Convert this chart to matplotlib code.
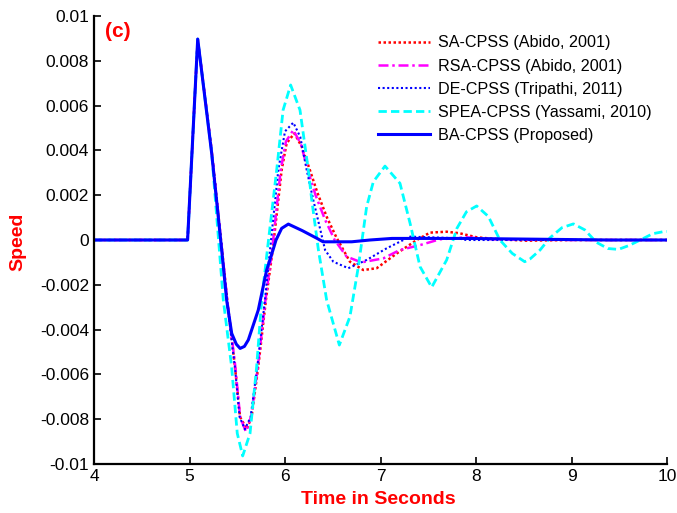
#!/usr/bin/env python3
"""Speed deviation response of the CPSS designs, panel (c)."""

import matplotlib
matplotlib.use("Agg")
import matplotlib.pyplot as plt
from matplotlib.ticker import FixedLocator, FixedFormatter


# values, speed in units of 1e-3
t_sa = [4.0, 4.98, 5.086, 5.232, 5.337, 5.395, 5.476, 5.529, 5.599, 5.65, 5.72, 5.80,
        5.871, 5.965, 6.017, 6.098, 6.175, 6.26, 6.34, 6.44, 6.54, 6.68, 6.82, 6.96,
        7.17, 7.38, 7.518, 7.693, 7.83, 8.007, 8.25, 8.53, 9.0, 10.0]
v_sa = [0, 0, 8.97, 4.0, -0.3, -2.68, -5.66, -7.89, -8.45, -7.89, -5.66, -2.68,
        -0.45, 3.13, 4.32, 4.76, 4.17, 3.13, 2.1, 1.0, 0.1, -0.97, -1.34, -1.26,
        -0.6, 0.0, 0.33, 0.37, 0.30, 0.12, 0.03, -0.03, 0, 0]

t_rsa = [4.0, 4.98, 5.086, 5.232, 5.337, 5.395, 5.48, 5.53, 5.59, 5.645, 5.715, 5.795,
         5.865, 5.955, 6.01, 6.087, 6.165, 6.24, 6.32, 6.42, 6.52, 6.645, 6.80, 7.03,
         7.2, 7.42, 7.62, 7.90, 8.18, 9.0, 10.0]
v_rsa = [0, 0, 8.97, 4.0, -0.3, -2.68, -5.66, -7.9, -8.55, -7.9, -5.66, -2.68,
         -0.45, 3.13, 4.4, 4.91, 4.3, 3.1, 2.0, 0.9, 0.0, -0.74, -1.0, -0.82,
         -0.45, -0.22, 0.03, 0.12, 0.03, 0, 0]

t_de = [4.0, 4.98, 5.086, 5.232, 5.337, 5.39, 5.475, 5.525, 5.58, 5.64, 5.71, 5.79,
        5.843, 5.93, 6.0, 6.087, 6.16, 6.227, 6.296, 6.42, 6.506, 6.663, 6.855, 7.065,
        7.31, 7.8, 7.9, 10.0]
v_de = [0, 0, 8.97, 4.0, -0.3, -2.68, -5.66, -7.9, -8.45, -7.9, -5.66, -2.68,
        -0.45, 3.13, 4.85, 5.24, 4.6, 3.13, 1.79, -0.45, -0.97, -1.26, -0.89, -0.37,
        0.15, 0.08, 0.0, 0.0]

t_spea = [4.0, 4.98, 5.086, 5.232, 5.354, 5.441, 5.50, 5.557, 5.634, 5.703, 5.756, 5.815,
          5.913, 5.98, 6.059, 6.157, 6.244, 6.28, 6.35, 6.436, 6.569, 6.68, 6.768, 6.855,
          6.925, 7.047, 7.204, 7.31, 7.414, 7.536, 7.693, 7.80, 7.90, 8.007, 8.13, 8.25,
          8.38, 8.51, 8.565, 8.67, 8.775, 8.90, 9.02, 9.14, 9.26, 9.38, 9.49, 9.60,
          9.72, 9.85, 9.96, 10.0]
v_spea = [0, 0, 8.97, 3.9, -2.68, -5.66, -8.63, -9.64, -8.63, -5.66, -2.68, -0.45,
          3.13, 5.8, 6.92, 5.8, 3.13, 1.79, -0.45, -2.68, -4.69, -3.42, -1.19, 1.49,
          2.6, 3.30, 2.53, 0.74, -1.19, -2.11, -0.89, 0.52, 1.26, 1.52, 1.05, 0.0,
          -0.6, -0.97, -0.85, -0.45, 0.1, 0.55, 0.72, 0.45, -0.1, -0.38, -0.42, -0.25,
          0.0, 0.28, 0.37, 0.38]

t_ba = [4.0, 4.98, 5.086, 5.232, 5.337, 5.389, 5.442, 5.49, 5.53, 5.575, 5.616, 5.72,
        5.808, 5.874, 5.906, 5.965, 6.035, 6.18, 6.332, 6.398, 6.698, 6.89, 7.12, 7.88,
        9.4, 10.0]
v_ba = [0, 0, 8.97, 3.88, -0.45, -2.68, -4.17, -4.65, -4.84, -4.75, -4.46, -3.13,
        -1.34, -0.45, 0, 0.52, 0.71, 0.42, 0.08, -0.08, -0.08, 0, 0.07, 0.07,
        0, 0]

labels = ["SA-CPSS (Abido, 2001)", "RSA-CPSS (Abido, 2001)", "DE-CPSS (Tripathi, 2011)",
          "SPEA-CPSS (Yassami, 2010)", "BA-CPSS (Proposed)"]

y_ticks = [-0.01, -0.008, -0.006, -0.004, -0.002, 0, 0.002, 0.004, 0.006, 0.008, 0.01]
y_tick_labels = ["-0.01", "-0.008", "-0.006", "-0.004", "-0.002", "0",
                 "0.002", "0.004", "0.006", "0.008", "0.01"]
x_ticks = [4, 5, 6, 7, 8, 9, 10]


def scaled(values):
    return [v * 1e-3 for v in values]


def main():
    plt.rcParams["font.family"] = ["Liberation Sans", "DejaVu Sans"]
    fig = plt.figure(figsize=(6.77, 5.13), dpi=100)
    ax = fig.add_axes([94 / 677, 1 - 464 / 513, 573 / 677, 448 / 513])

    ax.plot(t_sa, scaled(v_sa), color="#FF0000", linestyle=(0, (1, 1)), linewidth=1.8,
            label=labels[0])
    ax.plot(t_rsa, scaled(v_rsa), color="#FF00FF", linestyle=(0, (4, 1.5, 1, 1.5)),
            linewidth=1.8, label=labels[1])
    ax.plot(t_de, scaled(v_de), color="#0000FF", linestyle=(0, (1, 1.2)), linewidth=1.5,
            label=labels[2])
    ax.plot(t_spea, scaled(v_spea), color="#00FFFF", linestyle=(0, (3, 1.5)),
            linewidth=2.0, label=labels[3])
    ax.plot(t_ba, scaled(v_ba), color="#0000FF", linestyle="-", linewidth=2.2,
            label=labels[4])

    ax.set_xlim(4, 10)
    ax.set_ylim(-0.01, 0.01)
    ax.xaxis.set_major_locator(FixedLocator(x_ticks))
    ax.yaxis.set_major_locator(FixedLocator(y_ticks))
    ax.yaxis.set_major_formatter(FixedFormatter(y_tick_labels))
    ax.tick_params(direction="in", length=5, width=1.2, labelsize=12.5, colors="black")
    for side in ("top", "right"):
        ax.spines[side].set_visible(False)
    for side in ("left", "bottom"):
        ax.spines[side].set_linewidth(1.6)

    ax.text(4.115, 0.0093, "(c)", color="#FF0000", fontsize=15, fontweight="bold",
            ha="left", va="center")
    fig.text(18 / 677, 1 - 242 / 513, "Speed", color="#FF0000", fontsize=14,
             fontweight="bold", rotation=90, ha="center", va="center")
    fig.text(378 / 677, 1 - 500 / 513, "Time in Seconds", color="#FF0000", fontsize=14,
             fontweight="bold", ha="center", va="center")

    ax.legend(loc="upper left", bbox_to_anchor=(378 / 677, 1 - 35.5 / 513),
              bbox_transform=fig.transFigure, frameon=False, fontsize=11.6,
              handlelength=3.25, handletextpad=0.5, labelspacing=0.5,
              borderpad=0, borderaxespad=0)

    fig.savefig("out.png", dpi=100)
    plt.close(fig)


if __name__ == "__main__":
    main()
